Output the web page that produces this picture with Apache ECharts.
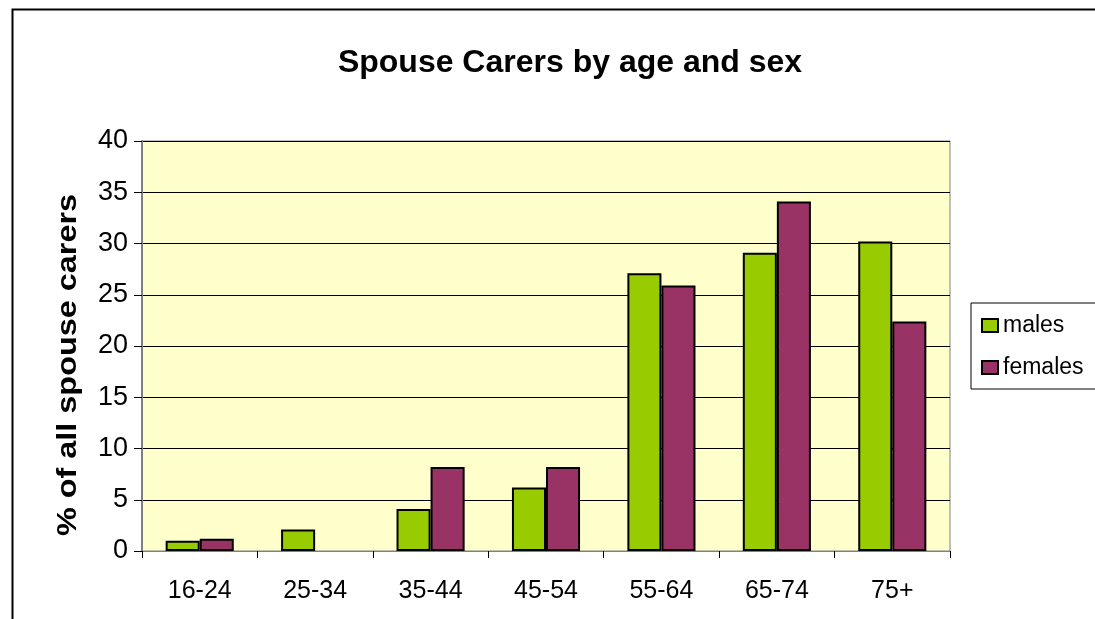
<!DOCTYPE html>
<html><head><meta charset="utf-8">
<script src="https://cdn.jsdelivr.net/npm/echarts@6/dist/echarts.min.js"></script>
<style>html,body{margin:0;padding:0;background:#fff}#c{width:1095px;height:619px}</style>
</head><body><div id="c"></div>
<script>
const categories = ['16-24','25-34','35-44','45-54','55-64','65-74','75+'];
const males = [1.0, 2.1, 4.1, 6.2, 27.1, 29.1, 30.2];
const females = [1.2, 0, 8.2, 8.2, 25.9, 34.1, 22.4];
const seriesNames = ['males', 'females'];
const titleText = 'Spouse Carers by age and sex';
const yAxisName = '% of all spouse carers';

const chart = echarts.init(document.getElementById('c'));
const F = 'Arial, "Liberation Sans", sans-serif';
const noZeroBorder = arr => arr.map(v => v === 0 ? { value: v, itemStyle: { borderWidth: 0 } } : v);
chart.setOption({
  animation: false,
  textStyle: { fontFamily: F },
  title: { text: titleText, left: 565, textAlign: 'center', top: 42,
    textStyle: { fontFamily: F, fontSize: 32, fontWeight: 'bold', color: '#000' } },
  graphic: [
    { type: 'rect', left: 10, top: 7, shape: { width: 1100, height: 700 },
      style: { fill: 'none', stroke: '#000', lineWidth: 2 }, z: -10 },
    { type: 'text', x: 69, y: 365, rotation: Math.PI / 2, scaleX: 1.2, scaleY: 1,
      style: { text: yAxisName, fontFamily: F, fontSize: 27, fontWeight: 'bold',
        fill: '#000', align: 'center', verticalAlign: 'middle' } }
  ],
  legend: {
    orient: 'vertical', left: 971, top: 303,
    data: seriesNames,
    itemWidth: 16, itemHeight: 13, itemGap: 19,
    padding: [11, 40, 10, 10],
    borderColor: '#000', borderWidth: 1,
    textStyle: { fontFamily: F, fontSize: 23, color: '#000' },
    icon: 'rect'
  },
  grid: { left: 142, top: 141, width: 808, height: 410,
    show: true, backgroundColor: '#FFFFCC', borderColor: '#808080', borderWidth: 1 },
  xAxis: {
    type: 'category', data: categories,
    axisLine: { lineStyle: { color: '#808080', width: 1 } },
    axisTick: { show: true, length: 7, lineStyle: { color: '#000' } },
    axisLabel: { fontFamily: F, fontSize: 25, color: '#000', margin: 28 }
  },
  yAxis: {
    type: 'value', min: 0, max: 40, interval: 5,
    axisLine: { show: true, lineStyle: { color: '#808080', width: 2 } },
    axisTick: { show: true, length: 8, lineStyle: { color: '#000' } },
    axisLabel: { fontFamily: F, fontSize: 27, color: '#000', margin: 14 },
    splitLine: { show: true, lineStyle: { color: '#000', width: 1 } }
  },
  series: [
    { name: seriesNames[0], type: 'bar', data: noZeroBorder(males), barGap: '0%', barCategoryGap: '41%',
      itemStyle: { color: '#99CC00', borderColor: '#000', borderWidth: 2 } },
    { name: seriesNames[1], type: 'bar', data: noZeroBorder(females), barGap: '0%', barCategoryGap: '41%',
      itemStyle: { color: '#993366', borderColor: '#000', borderWidth: 2 } }
  ]
});
</script></body></html>
